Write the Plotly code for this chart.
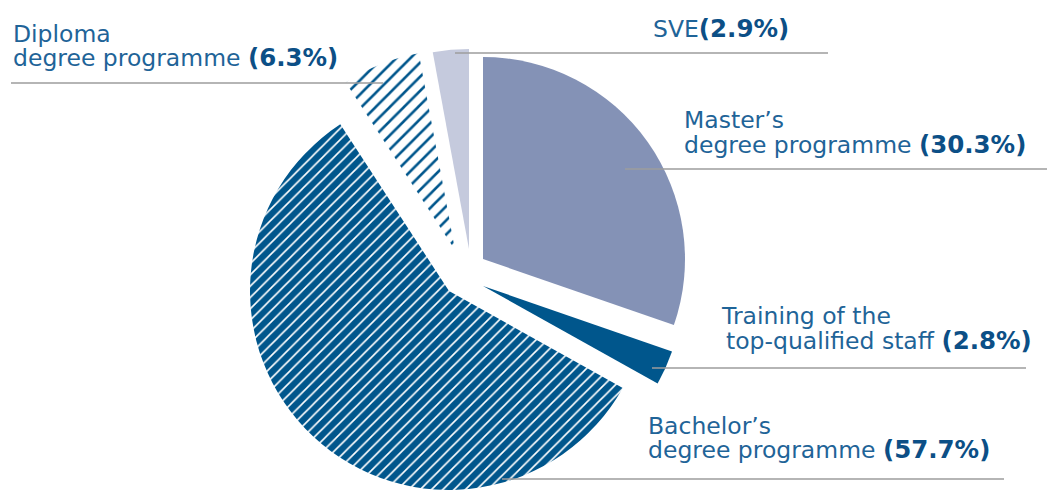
import plotly.graph_objects as go

# the page body adds an 8px margin, so the figure is that much smaller
OFF = 8
W, H = 1055 - OFF, 490 - OFF

# data, clockwise from 12 o'clock
slices = ["Master’s degree programme", "Training of the top-qualified staff",
          "Bachelor’s degree programme", "Diploma degree programme", "SVE"]
shares = [30.3, 2.8, 57.7, 6.3, 2.9]
label_line1 = ["Master’s", "Training of the", "Bachelor’s", "Diploma", ""]
label_line2 = ["degree programme", "top-qualified staff", "degree programme",
               "degree programme", "SVE"]

# look of each slice
colors = ["#8492b6", "#00568c", "#00568c", "#ffffff", "#c5cadd"]
pat_shape = ["", "", "/", "/", ""]
pat_fg = ["#ffffff", "#ffffff", "#ffffff", "#00568c", "#ffffff"]
pat_solid = [0.2, 0.2, 0.2, 0.26, 0.2]
pat_size = [10, 10, 8, 10, 10]

# exploded slices: where each slice's tip sits and its radius (page px)
tips = [(483, 259), (483, 286), (449, 291), (455, 250), (469, 249)]
radii = [202, 200, 199, 200, 200]

# label placement: (x line1, baseline line1, x line2, baseline line2), page px
label_pos = [(683, 127, 683, 152), (720, 323, 725, 348), (647, 433, 647, 457),
             (12, 41, 12, 65), (0, 0, 652, 36)]
# leader lines (x0, x1, y), page px
leaders = [(625, 1055, 169), (652, 1026, 368), (502, 1004, 479),
           (11, 383, 83), (455, 828, 53)]

FONT = "DejaVu Sans"
TXT = "#1f6498"
BOLD = "#0c4f86"
FS = 23.5
FS_BOLD = 24.5


def px(x):
    return (x - OFF) / W


def py(y):
    return 1 - (y - OFF) / H


fig = go.Figure()

n = len(shares)
for i in range(n):
    cx, cy = tips[i]
    r = radii[i]
    fig.add_trace(go.Pie(
        values=shares,
        labels=slices,
        sort=False,
        direction="clockwise",
        rotation=0,
        textinfo="none",
        showlegend=False,
        hoverinfo="label+percent" if i == 0 else "skip",
        domain=dict(x=[px(cx - r), px(cx + r)],
                    y=[max(0, py(cy + r)), py(cy - r)]),
        marker=dict(
            colors=[colors[j] if j == i else "rgba(0,0,0,0)" for j in range(n)],
            line=dict(width=0),
            pattern=dict(
                shape=[pat_shape[j] if j == i else "" for j in range(n)],
                fgcolor=pat_fg,
                bgcolor=[colors[j] if j == i else "rgba(0,0,0,0)" for j in range(n)],
                solidity=pat_solid,
                size=pat_size,
            ),
        ),
    ))

# leader lines
for x0, x1, y in leaders:
    fig.add_shape(type="line", xref="paper", yref="paper",
                  x0=px(x0), x1=px(x1), y0=py(y), y1=py(y),
                  line=dict(color="#9c9c9c", width=1.5), layer="above")


def add_text(text, x, baseline):
    fig.add_annotation(
        text=text, xref="paper", yref="paper",
        x=px(x), y=py(baseline + 8),
        xanchor="left", yanchor="bottom", showarrow=False, borderpad=0,
        font=dict(family=FONT, size=FS, color=TXT))


for i in range(n):
    x1, b1, x2, b2 = label_pos[i]
    if label_line1[i]:
        add_text(label_line1[i], x1, b1)
    sep = "" if label_line2[i] == "SVE" else " "
    pct = (f"<b><span style='color:{BOLD};font-size:{FS_BOLD}px'>"
           f"({shares[i]:.1f}%)</span></b>")
    add_text(label_line2[i] + sep + pct, x2, b2)

fig.update_layout(
    width=W, height=H,
    margin=dict(l=0, r=0, t=0, b=0),
    paper_bgcolor="white",
    plot_bgcolor="white",
)

fig.write_html("out.html")
